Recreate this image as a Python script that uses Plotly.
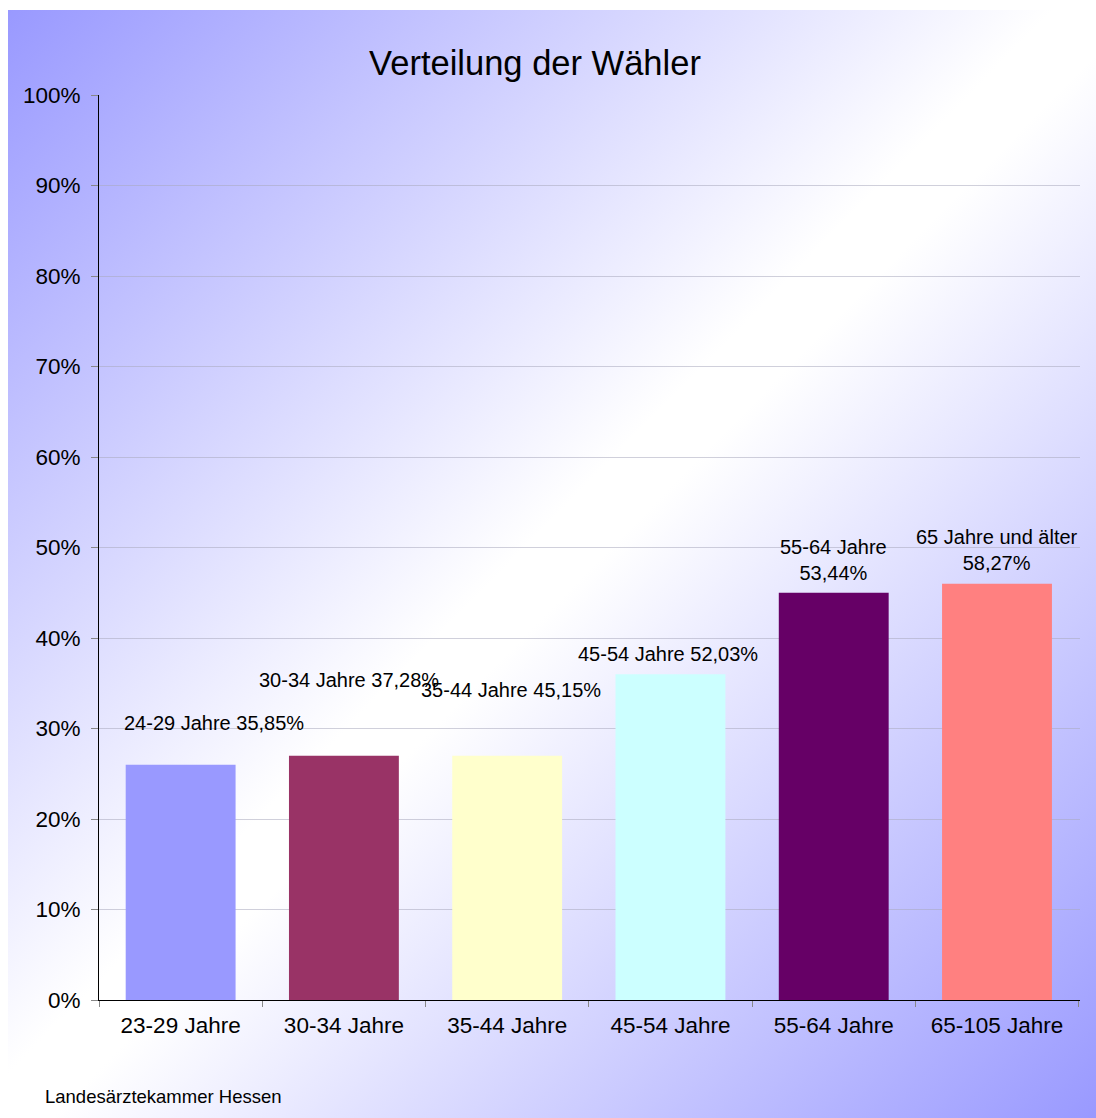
import base64
import plotly.graph_objects as go

# ---- data ----
categories = ["23-29 Jahre", "30-34 Jahre", "35-44 Jahre", "45-54 Jahre", "55-64 Jahre", "65-105 Jahre"]
shares_pct = [26, 27, 27, 36, 45, 46]
label_texts = ["24-29 Jahre 35,85%", "30-34 Jahre 37,28%", "35-44 Jahre 45,15%",
               "45-54 Jahre 52,03%", "55-64 Jahre<br>53,44%", "65 Jahre und älter<br>58,27%"]
y_tick_values = [0, 10, 20, 30, 40, 50, 60, 70, 80, 90, 100]
y_tick_labels = ["0%", "10%", "20%", "30%", "40%", "50%", "60%", "70%", "80%", "90%", "100%"]

# ---- styles ----
bar_colors = ["#9999FF", "#993366", "#FFFFCC", "#CCFFFF", "#660066", "#FF8080"]
label_y = [30.6, 35.4, 34.3, 38.2, 48.6, 49.7]
label_xshift = [33, 5, 4, -2, 0, 0]
FONT = "Liberation Sans, Arial, sans-serif"

W, H = 1096, 1118
L, T = 99, 95
R, B = W - 1080, H - 1000
pw, ph = W - L - R, H - T - B

def px_to_paper_x(px):
    return (px - L) / pw

def py_to_paper_y(py):
    return (H - B - py) / ph

GX, GY = 8, 10
GW, GH = W - GX, H - GY
svg = (f'<svg xmlns="http://www.w3.org/2000/svg" width="{GW}" height="{GH}" viewBox="0 0 {GW} {GH}" preserveAspectRatio="none">'
       '<defs><linearGradient id="g" x1="0" y1="0" x2="1" y2="1">'
       '<stop offset="0" stop-color="#9999FF"/><stop offset="0.48" stop-color="#FFFFFF"/>'
       '<stop offset="0.52" stop-color="#FFFFFF"/>'
       '<stop offset="1" stop-color="#9999FF"/></linearGradient></defs>'
       f'<rect x="0" y="0" width="{GW}" height="{GH}" fill="url(#g)"/></svg>')
src = "data:image/svg+xml;base64," + base64.b64encode(svg.encode()).decode()

fig = go.Figure()
fig.add_trace(go.Bar(x=categories, y=shares_pct, marker=dict(color=bar_colors, line=dict(width=0)),
                     hoverinfo="x+y", showlegend=False))

for cat, txt, ly, xs in zip(categories, label_texts, label_y, label_xshift):
    fig.add_annotation(x=cat, y=ly, text=txt, showarrow=False, xshift=xs,
                       xanchor="center", yanchor="middle",
                       font=dict(family=FONT, size=20, color="#000000"))

fig.add_annotation(xref="paper", yref="paper", x=px_to_paper_x(43), y=py_to_paper_y(1096),
                   text="Landesärztekammer Hessen", showarrow=False, xanchor="left", yanchor="middle",
                   font=dict(family=FONT, size=18.5, color="#000000"))

fig.add_layout_image(dict(source=src, xref="paper", yref="paper",
                          x=px_to_paper_x(GX), y=py_to_paper_y(GY),
                          sizex=GW / pw, sizey=GH / ph,
                          sizing="stretch", xanchor="left", yanchor="top", layer="below"))

fig.update_layout(
    width=W, height=H,
    margin=dict(l=L, r=R, t=T, b=B, pad=0),
    paper_bgcolor="#FFFFFF", plot_bgcolor="rgba(0,0,0,0)",
    bargap=0.327,
    title=dict(text="Verteilung der Wähler", xref="container", yref="container",
               x=535 / W, y=1 - 63 / H, xanchor="center", yanchor="middle",
               font=dict(family=FONT, size=34.5, color="#000000")),
    font=dict(family=FONT, color="#000000"),
    xaxis=dict(showline=True, linecolor="#000000", linewidth=1, ticks="outside", tickson="boundaries",
               ticklen=6, tickcolor="#888888", showgrid=False, tickfont=dict(size=22.5),
               ticklabelstandoff=5, fixedrange=True),
    yaxis=dict(range=[0, 100], tickvals=y_tick_values, ticktext=y_tick_labels,
               showline=True, linecolor="#000000", linewidth=1, ticks="outside", ticklen=7,
               tickcolor="#888888", showgrid=True, gridcolor="rgba(170,170,190,0.55)", gridwidth=1,
               zeroline=False, tickfont=dict(size=22.5), ticklabelstandoff=6, fixedrange=True),
)

fig.write_html("out.html", config={"displayModeBar": False},
               post_script="document.body.style.margin='0';document.body.style.overflow='hidden';")
